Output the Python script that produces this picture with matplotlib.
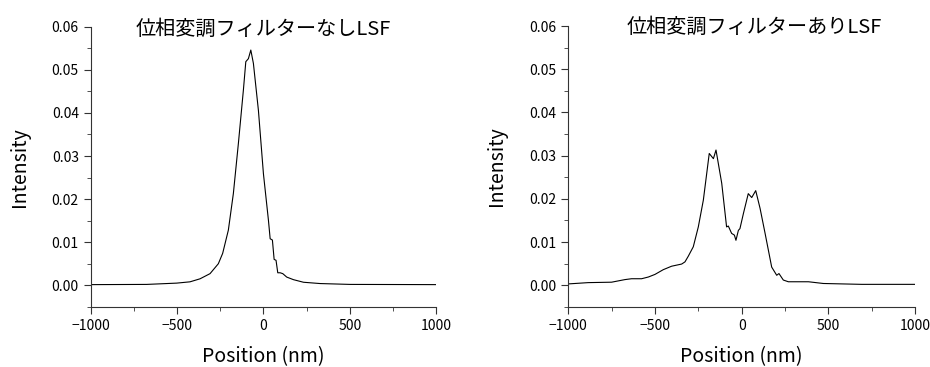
import matplotlib
matplotlib.use("Agg")
import matplotlib.pyplot as plt
from matplotlib.ticker import MultipleLocator

plt.rcParams['font.family'] = ['Noto Sans CJK JP', 'DejaVu Sans']

# without phase-modulation filter
pos_off = [-1000, -676, -502, -425, -367, -309, -261, -236, -203, -174, -145, -116,
           -102, -87, -73, -58, -29, 0, 29, 39, 52, 62, 73, 83, 97, 112, 135, 174,
           232, 328, 502, 1000]
int_off = [0.00015, 0.0002, 0.0005, 0.0008, 0.0015, 0.0027, 0.005, 0.0074, 0.0128,
           0.0213, 0.0329, 0.0453, 0.0519, 0.0526, 0.0546, 0.0515, 0.0406, 0.0259,
           0.0151, 0.0108, 0.0105, 0.006, 0.0058, 0.0029, 0.0029, 0.0027, 0.0019,
           0.0013, 0.0007, 0.0004, 0.0002, 0.00015]

# with phase-modulation filter
pos_on = [-1000, -885, -750, -673, -635, -577, -538, -500, -452, -404, -346, -327,
          -308, -279, -250, -221, -187, -163, -148, -115, -87, -77, -58, -42, -33,
          -19, -10, 10, 38, 58, 81, 106, 135, 173, 202, 215, 240, 269, 385, 471,
          692, 1000]
int_on = [0.0003, 0.0006, 0.0007, 0.0013, 0.0015, 0.0015, 0.0019, 0.0025, 0.0036,
          0.0044, 0.0049, 0.0054, 0.0067, 0.0089, 0.0135, 0.0197, 0.0305, 0.0293,
          0.0313, 0.0236, 0.0135, 0.0137, 0.012, 0.0116, 0.0104, 0.0127, 0.0131,
          0.0166, 0.0212, 0.0203, 0.0219, 0.0178, 0.012, 0.0042, 0.0023, 0.0027,
          0.0012, 0.0008, 0.0008, 0.0004, 0.0002, 0.0002]

titles = ["位相変調フィルターなしLSF", "位相変調フィルターありLSF"]

fig = plt.figure(figsize=(9.3, 3.67), dpi=100)
ax1 = fig.add_axes([0.0975, 0.164, 0.3715, 0.763])
ax2 = fig.add_axes([0.611, 0.164, 0.373, 0.765])

for ax, x, y, t, dx, dy in [(ax1, pos_off, int_off, titles[0], 0.5, 0.99),
                            (ax2, pos_on, int_on, titles[1], 0.535, 0.995)]:
    ax.plot(x, y, color="black", lw=0.8)
    ax.set_xlim(-1000, 1000)
    ax.set_ylim(-0.005, 0.06)
    ax.set_xticks([-1000, -500, 0, 500, 1000])
    ax.set_xticklabels(["\u22121000", "\u2212500", "0", "500", "1000"])
    ax.set_yticks([0, 0.01, 0.02, 0.03, 0.04, 0.05, 0.06])
    ax.set_yticklabels(["0.00", "0.01", "0.02", "0.03", "0.04", "0.05", "0.06"])
    ax.xaxis.set_minor_locator(MultipleLocator(250))
    ax.yaxis.set_minor_locator(MultipleLocator(0.005))
    ax.tick_params(which="major", length=5, width=0.8, labelsize=10, color="#333333")
    ax.tick_params(which="minor", length=3, width=0.6, color="#333333")
    for s in ["top", "right"]:
        ax.spines[s].set_visible(False)
    for s in ["left", "bottom"]:
        ax.spines[s].set_color("#333333")
        ax.spines[s].set_linewidth(0.8)
    ax.text(dx, dy, t, transform=ax.transAxes, ha="center", va="center", fontsize=14.5)
    ax.set_xlabel("Position (nm)", fontsize=14, labelpad=10)
    ax.set_ylabel("Intensity", fontsize=14, labelpad=16)

fig.savefig("out.png", dpi=100)
